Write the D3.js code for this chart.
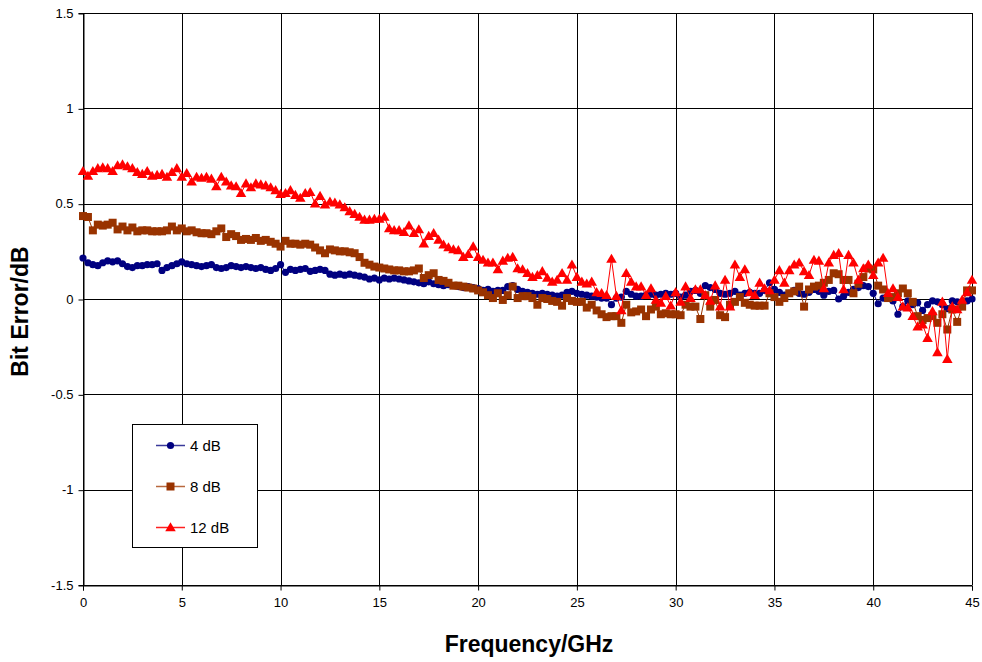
<!DOCTYPE html>
<html><head><meta charset="utf-8">
<script src="https://cdn.jsdelivr.net/npm/d3@7"></script>
<style>body{margin:0;background:#fff;} text{font-family:Arial,"Liberation Sans",sans-serif;}</style>
</head><body>
<svg id="c" width="982" height="662"></svg>
<script>
const stepGHz = 0.25;
const freqs = d3.range(0, 45 + 1e-9, stepGHz);
const seriesNames = ["4 dB", "8 dB", "12 dB"];
const xTicks = [0,5,10,15,20,25,30,35,40,45];
const yTicks = [-1.5,-1,-0.5,0,0.5,1,1.5];
const yTickLabels = ["-1.5","-1","-0.5","0","0.5","1","1.5"];

const err4 = [
0.215,0.19,0.18,0.175, 0.19,0.2,0.195,0.2, 0.185,0.17,0.165,0.175, 0.175,0.18,0.18,0.185, 0.15,0.165,0.175,0.185,
0.195,0.185,0.18,0.175, 0.17,0.175,0.18,0.165, 0.16,0.165,0.175,0.17, 0.165,0.17,0.165,0.16, 0.165,0.155,0.15,0.16,
0.18,0.14,0.155,0.15, 0.155,0.16,0.145,0.15, 0.155,0.15,0.13,0.125, 0.13,0.125,0.13,0.125, 0.12,0.115,0.105,0.11,
0.1,0.11,0.105,0.11, 0.105,0.1,0.095,0.09, 0.085,0.08,0.09,0.08, 0.075,0.07,0.075,0.07, 0.065,0.06,0.065,0.06,
0.055,0.045,0.05,0.04, 0.045,0.045,0.065,0.07, 0.05,0.04,0.035,0.03, 0.025,0.03,0.025,0.02, 0.015,0.02,0.035,0.04,
0.03,0.025,0.02,0.015, 0.01,0.005,0.005,-0.03, 0.005,0.01,0.04,0.025, 0.015,0.015,0.02,0.025, 0.02,0.025,0.03,0.025,
0.03,0.01,0.02,0.04, 0.045,0.03,0.07,0.06, 0.05,0.03,0.025,0.03, 0.04,0.02,0.03,0.035, 0.03,0.03,0.045,0.085,
0.05,0.035,0.02,0.03, 0.045,0.03,0.025,0.035, 0.05,0.04,0.02,0.04, 0.045,0.0,0.015,0.035, 0.05,0.06,0.07,0.065,
0.03,-0.025,0.005,0.01, -0.01,-0.08,-0.04,-0.01, -0.03,-0.02,-0.06,-0.03, -0.01,-0.015,-0.03,-0.05, -0.01,-0.015,-0.02,-0.01,
0.0];

const err8 = [
0.435,0.43,0.36,0.39, 0.385,0.39,0.4,0.365, 0.38,0.36,0.375,0.355, 0.36,0.36,0.355,0.355, 0.355,0.36,0.38,0.36,
0.37,0.355,0.36,0.35, 0.345,0.345,0.34,0.355, 0.37,0.325,0.34,0.33, 0.31,0.315,0.31,0.32, 0.305,0.31,0.3,0.29,
0.275,0.305,0.29,0.29, 0.285,0.29,0.285,0.27, 0.255,0.24,0.26,0.255, 0.25,0.25,0.245,0.24, 0.22,0.19,0.18,0.17,
0.165,0.16,0.155,0.15, 0.15,0.145,0.145,0.15, 0.16,0.11,0.125,0.135, 0.1,0.095,0.085,0.07, 0.07,0.065,0.06,0.055,
0.045,0.035,0.02,0.005, 0.03,-0.005,0.02,0.065, 0.005,0.015,0.015,0.005, -0.03,0.005,0.0,-0.01, -0.015,-0.035,0.005,-0.01,
-0.015,-0.015,-0.045,-0.03, -0.06,-0.08,-0.095,-0.09, -0.09,-0.125,-0.03,-0.07, -0.065,-0.055,-0.09,-0.055, -0.04,-0.08,-0.075,-0.08,
-0.08,-0.085,-0.03,-0.04, -0.04,-0.105,0.02,-0.04, -0.005,-0.085,-0.095,-0.03, -0.015,0.01,-0.02,-0.03, -0.035,-0.035,-0.035,0.03,
0.01,-0.015,0.005,0.03, 0.04,0.065,-0.04,0.05, 0.065,0.07,0.085,0.1, 0.135,0.13,0.1,0.1, 0.03,0.08,0.115,0.16,
0.155,0.07,0.05,0.005, 0.01,0.03,0.055,0.03, -0.015,-0.09,-0.11,-0.1, -0.09,-0.125,-0.08,-0.16, -0.055,-0.12,-0.04,0.045,
0.045];

const err12 = [
0.67,0.645,0.67,0.685, 0.69,0.685,0.67,0.7, 0.705,0.695,0.685,0.665, 0.655,0.67,0.645,0.65, 0.655,0.64,0.665,0.685,
0.64,0.66,0.615,0.64, 0.635,0.64,0.63,0.59, 0.64,0.615,0.595,0.59, 0.555,0.605,0.585,0.605, 0.6,0.595,0.585,0.57,
0.55,0.555,0.57,0.545, 0.53,0.555,0.56,0.5, 0.54,0.495,0.51,0.505, 0.495,0.48,0.46,0.445, 0.43,0.415,0.415,0.42,
0.42,0.43,0.37,0.36, 0.36,0.35,0.385,0.345, 0.365,0.29,0.33,0.345, 0.31,0.285,0.27,0.26, 0.255,0.22,0.235,0.275,
0.22,0.205,0.19,0.19, 0.155,0.2,0.215,0.22, 0.16,0.155,0.135,0.115, 0.125,0.145,0.11,0.09, 0.1,0.135,0.1,0.18,
0.115,0.09,0.08,0.09, 0.035,0.03,0.02,0.21, 0.015,-0.06,0.135,0.09, 0.065,0.065,0.02,0.055, -0.005,-0.02,0.015,-0.035,
0.035,-0.015,0.065,0.005, 0.05,0.05,0.02,-0.01, 0.07,-0.04,0.1,-0.04, 0.18,0.115,0.155,0.035, 0.02,0.085,0.055,0.045,
0.1,0.15,0.085,0.15, 0.18,0.19,0.145,0.125, 0.205,0.2,0.055,0.19, 0.23,0.24,0.05,0.23, 0.19,0.1,0.16,0.18,
0.125,0.19,0.215,0.03, 0.055,0.01,-0.04,-0.045, -0.09,-0.145,-0.135,-0.205, -0.065,-0.28,-0.015,-0.315, -0.04,-0.055,-0.005,0.035,
0.1];

const seriesValues = [err4, err8, err12];
const lineColors = ["#000080", "#993300", "#ff0000"];
const markerColors = ["#000080", "#993300", "#ff0000"];
const legendLineColors = ["#3a3a9a", "#b8683e", "#ff2020"];
const markerTypes = ["circle", "square", "triangle"];

const svg = d3.select("#c");
const L = 83, R = 972, T = 13, B = 585;
const x = d3.scaleLinear().domain([0,45]).range([L,R]);
const y = d3.scaleLinear().domain([-1.5,1.5]).range([B,T]);

// grid
const g = svg.append("g");
g.selectAll("line.v").data(xTicks).join("line")
  .attr("x1", d=>Math.round(x(d))+0.5).attr("x2", d=>Math.round(x(d))+0.5)
  .attr("y1", T).attr("y2", B).attr("stroke", "#000").attr("stroke-width", 1);
g.selectAll("line.h").data(yTicks).join("line")
  .attr("y1", d=>Math.round(y(d))+0.5).attr("y2", d=>Math.round(y(d))+0.5)
  .attr("x1", L).attr("x2", R).attr("stroke", "#000").attr("stroke-width", 1);

// axes
const xAxis = d3.axisBottom(x).tickValues(xTicks).tickSize(5).tickPadding(7).tickFormat(d3.format("d"));
const yAxis = d3.axisLeft(y).tickValues(yTicks).tickSize(5).tickPadding(5).tickFormat((d,i)=>yTickLabels[i]);
const gx = svg.append("g").attr("transform", `translate(0,${Math.round(y(-1.5))+0.5})`).call(xAxis);
const gy = svg.append("g").attr("transform", `translate(${Math.round(x(0))+0.5},0)`).call(yAxis);
[gx, gy].forEach(a => {
  a.select(".domain").attr("stroke", "#000");
  a.selectAll(".tick line").attr("stroke", "#000");
  a.selectAll("text").attr("font-family", "Arial, 'Liberation Sans', sans-serif").attr("font-size", 13).attr("fill", "#000");
});
gy.selectAll(".tick line").attr("transform", "translate(0,0.5)");

// axis titles
svg.append("text").attr("x", 529).attr("y", 652).attr("text-anchor", "middle")
  .attr("font-size", 23).attr("font-weight", "bold").text("Frequency/GHz");
svg.append("text").attr("transform", "translate(28,311.5) rotate(-90)").attr("text-anchor", "middle")
  .attr("font-size", 23).attr("font-weight", "bold").text("Bit Error/dB");

const tri = d3.symbol().type(d3.symbolTriangle).size(48);
function drawMarker(sel, type, color, cx, cy) {
  if (type === "circle") sel.append("circle").attr("cx", cx).attr("cy", cy).attr("r", 3.6).attr("fill", color);
  else if (type === "square") sel.append("rect").attr("x", cx-4).attr("y", cy-4).attr("width", 8).attr("height", 8).attr("fill", color);
  else sel.append("path").attr("d", tri()).attr("transform", `translate(${cx},${cy+0.8})`).attr("fill", color);
}

const line = d3.line().x((d,i)=>x(freqs[i])).y(d=>y(d));
seriesValues.forEach((vals, si) => {
  const sg = svg.append("g");
  sg.append("path").datum(vals).attr("d", line).attr("fill", "none")
    .attr("stroke", lineColors[si]).attr("stroke-width", 1);
  vals.forEach((v, i) => drawMarker(sg, markerTypes[si], markerColors[si], x(freqs[i]), y(v)));
});

// legend
const lg = svg.append("g");
lg.append("rect").attr("x", 132.5).attr("y", 424.5).attr("width", 125).attr("height", 123)
  .attr("fill", "#fff").attr("stroke", "#000").attr("stroke-width", 1);
seriesNames.forEach((n, i) => {
  const cy = 445 + i*41;
  lg.append("line").attr("x1", 156).attr("x2", 185).attr("y1", cy+0.5).attr("y2", cy+0.5)
    .attr("stroke", legendLineColors[i]).attr("stroke-width", 1.5);
  drawMarker(lg, markerTypes[i], markerColors[i], 170.5, cy+0.5);
  lg.append("text").attr("x", 190).attr("y", cy+6).attr("font-size", 15).attr("fill", "#000").text(n);
});
</script>
</body></html>
